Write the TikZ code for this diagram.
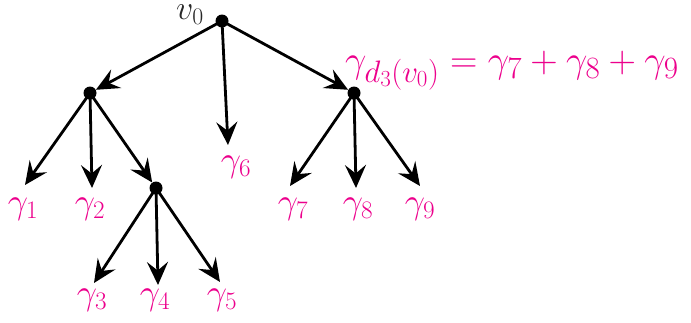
\RequirePackage{fix-cm}
\documentclass[tikz,border=0pt]{standalone}
\usetikzlibrary{arrows.meta}
\DeclareMathSizes{38}{38}{31}{23}
\definecolor{lblpink}{RGB}{236,0,140}
\definecolor{vgray}{RGB}{40,40,40}
\begin{document}
\begin{tikzpicture}[x=1pt,y=-1pt,
  dotnode/.style={circle,fill=black,inner sep=0pt,minimum size=13pt},
  edge/.style={line width=2.8pt,-{Stealth[length=23pt,width=21pt,inset=8.5pt]}},
  lbl/.style={text=lblpink,font=\fontsize{36}{40}\selectfont,inner sep=0pt}]
\useasboundingbox (0,0) rectangle (691,322);
\node[dotnode] (v0) at (222,21) {};
\node[dotnode] (a) at (90,93) {};
\node[dotnode] (b) at (354,93) {};
\node[dotnode] (c) at (156,188) {};
\coordinate (t1) at (25,185);
\coordinate (t2) at (92,188);
\coordinate (t6) at (228,145);
\coordinate (t3) at (94,283);
\coordinate (t4) at (158,285);
\coordinate (t5) at (220,282);
\coordinate (t7) at (290,186);
\coordinate (t8) at (356,188);
\coordinate (t9) at (420,186);
\draw[edge] (v0.center) -- (a);
\draw[edge] (v0.center) -- (b);
\draw[edge] (v0.center) -- (t6);
\draw[edge] (a.center) -- (t1);
\draw[edge] (a.center) -- (t2);
\draw[edge] (a.center) -- (c);
\draw[edge] (c.center) -- (t3);
\draw[edge] (c.center) -- (t4);
\draw[edge] (c.center) -- (t5);
\draw[edge] (b.center) -- (t7);
\draw[edge] (b.center) -- (t8);
\draw[edge] (b.center) -- (t9);
\node[text=vgray,font=\fontsize{34}{38}\selectfont,inner sep=0pt] (lv0) at (190,15) {$v_0$};
\node[lbl] (l1) at (23,209) {$\gamma_1$};
\node[lbl] (l2) at (90,209) {$\gamma_2$};
\node[lbl] (l3) at (92,300) {$\gamma_3$};
\node[lbl] (l4) at (155,300) {$\gamma_4$};
\node[lbl] (l5) at (222,300) {$\gamma_5$};
\node[lbl] (l6) at (236,167) {$\gamma_6$};
\node[lbl] (l7) at (293,209) {$\gamma_7$};
\node[lbl] (l8) at (358,209) {$\gamma_8$};
\node[lbl] (l9) at (420,209) {$\gamma_9$};
\node[lbl,font=\fontsize{38}{42}\selectfont,anchor=base west] (lf) at (345,72) {$\gamma_{d_3(v_0)}=\gamma_7+\gamma_8+\gamma_9$};
\end{tikzpicture}
\end{document}
